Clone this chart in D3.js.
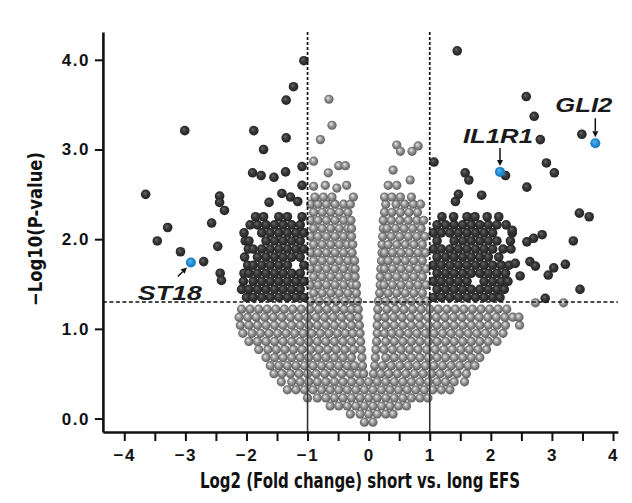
<!DOCTYPE html>
<html>
<head>
<meta charset="utf-8">
<script src="https://cdn.jsdelivr.net/npm/d3@7"></script>
<style>
  body { margin: 0; background: #fff; }
</style>
</head>
<body>
<div id="chart"></div>
<script>
// cut-offs used in the plot
const fcCut = 1
const pCut = 1.3

// non-significant genes, one row per -log10(p) level: [p, fc, fc, ...]
const greyRows = [
  [-0.04, -0.07, 0.07],
  [0.05, -0.3, -0.14, 0, 0.14, 0.28, 0.4],
  [0.14, -0.63, -0.49, -0.35, -0.21, -0.07, 0.07, 0.21, 0.35, 0.49, 0.62],
  [0.23, -1.0, -0.84, -0.7, -0.56, -0.42, -0.28, -0.14, 0, 0.14, 0.28, 0.42, 0.56, 0.7, 0.84, 0.97],
  [0.32, -1.33, -1.19, -1.05, -0.91, -0.77, -0.63, -0.49, -0.35, -0.21, -0.07, 0.07, 0.21, 0.35, 0.49, 0.63, 0.77, 0.91, 1.05, 1.19, 1.33],
  [0.41, -1.43, -1.26, -1.12, -0.98, -0.84, -0.7, -0.56, -0.42, -0.28, -0.14, 0, 0.14, 0.28, 0.42, 0.56, 0.7, 0.84, 0.98, 1.12, 1.26, 1.4, 1.57],
  [0.50, -1.55, -1.42, -1.28, -1.14, -1.0, -0.86, -0.72, -0.58, -0.44, -0.3, -0.17, -0.08, 0.08, 0.2, 0.33, 0.47, 0.61, 0.75, 0.89, 1.03, 1.17, 1.31, 1.45, 1.6],
  [0.59, -1.61, -1.47, -1.33, -1.19, -1.05, -0.91, -0.77, -0.63, -0.49, -0.35, -0.23, -0.1, 0.1, 0.23, 0.37, 0.51, 0.65, 0.79, 0.93, 1.07, 1.21, 1.35, 1.49, 1.63, 1.74],
  [0.68, -1.68, -1.54, -1.4, -1.26, -1.12, -0.98, -0.84, -0.7, -0.56, -0.42, -0.28, -0.11, 0.11, 0.28, 0.42, 0.56, 0.7, 0.84, 0.98, 1.12, 1.26, 1.4, 1.54, 1.68, 1.82],
  [0.77, -1.8, -1.65, -1.51, -1.37, -1.23, -1.09, -0.95, -0.81, -0.67, -0.53, -0.39, -0.25, -0.12, 0.12, 0.25, 0.39, 0.53, 0.67, 0.81, 0.95, 1.09, 1.23, 1.37, 1.51, 1.65, 1.79, 1.93],
  [0.86, -1.96, -1.82, -1.68, -1.54, -1.4, -1.26, -1.12, -0.98, -0.84, -0.7, -0.56, -0.42, -0.28, -0.13, 0.13, 0.28, 0.42, 0.56, 0.7, 0.84, 0.98, 1.12, 1.26, 1.4, 1.54, 1.68, 1.82, 1.96, 2.1],
  [0.95, -2.06, -1.91, -1.77, -1.63, -1.49, -1.35, -1.21, -1.07, -0.93, -0.79, -0.65, -0.51, -0.38, -0.26, -0.14, 0.14, 0.26, 0.38, 0.51, 0.65, 0.79, 0.93, 1.07, 1.21, 1.35, 1.49, 1.63, 1.77, 1.91, 2.05, 2.2],
  [1.04, -2.1, -1.96, -1.82, -1.68, -1.54, -1.4, -1.26, -1.12, -0.98, -0.84, -0.7, -0.56, -0.42, -0.28, -0.15, 0.14, 0.28, 0.42, 0.56, 0.7, 0.84, 0.98, 1.12, 1.26, 1.4, 1.54, 1.68, 1.82, 1.96, 2.1, 2.24, 2.47],
  [1.13, -2.12, -1.98, -1.84, -1.7, -1.56, -1.42, -1.28, -1.14, -1.0, -0.86, -0.72, -0.58, -0.44, -0.3, -0.17, 0.15, 0.27, 0.41, 0.55, 0.69, 0.83, 0.97, 1.11, 1.25, 1.39, 1.53, 1.67, 1.81, 1.95, 2.09, 2.23, 2.36, 2.46],
  [1.22, -2.08, -1.94, -1.8, -1.66, -1.52, -1.38, -1.24, -1.1, -0.96, -0.82, -0.68, -0.54, -0.4, -0.28, -0.17, 0.15, 0.3, 0.44, 0.58, 0.72, 0.86, 1.0, 1.14, 1.28, 1.42, 1.56, 1.7, 1.84, 1.98, 2.12, 2.26],
  [1.31, -0.95, -0.81, -0.67, -0.53, -0.39, -0.26, -0.18, 0.16, 0.28, 0.42, 0.56, 0.7, 0.84, 0.95],
  [1.40, -0.9, -0.76, -0.62, -0.48, -0.34, -0.2, 0.18, 0.32, 0.46, 0.6, 0.74, 0.88],
  [1.49, -0.96, -0.83, -0.69, -0.55, -0.41, -0.27, -0.2, 0.19, 0.25, 0.39, 0.53, 0.67, 0.81, 0.94],
  [1.58, -0.9, -0.76, -0.62, -0.48, -0.34, -0.22, 0.19, 0.32, 0.46, 0.6, 0.74, 0.88],
  [1.67, -0.95, -0.83, -0.69, -0.55, -0.41, -0.27, -0.22, 0.2, 0.26, 0.39, 0.53, 0.67, 0.81, 0.94],
  [1.76, -0.9, -0.76, -0.62, -0.48, -0.34, -0.23, 0.21, 0.32, 0.46, 0.6, 0.74, 0.88],
  [1.85, -0.95, -0.83, -0.69, -0.55, -0.41, -0.27, 0.22, 0.26, 0.39, 0.53, 0.67, 0.81, 0.93],
  [1.94, -0.9, -0.76, -0.62, -0.48, -0.35, -0.26, 0.22, 0.32, 0.46, 0.6, 0.74, 0.88],
  [2.03, -0.95, -0.83, -0.69, -0.55, -0.41, -0.28, 0.23, 0.37, 0.51, 0.65, 0.79, 0.92],
  [2.12, -0.9, -0.76, -0.62, -0.48, -0.34, -0.28, 0.24, 0.3, 0.44, 0.58, 0.72, 0.86],
  [2.21, -0.95, -0.83, -0.69, -0.55, -0.41, -0.29, 0.24, 0.37, 0.51, 0.65, 0.79, 0.9],
  [2.30, -0.9, -0.76, -0.62, -0.48, -0.34, 0.26, 0.38, 0.52, 0.66, 0.8],
  [2.39, -0.95, -0.83, -0.69, -0.55, -0.41, -0.3, 0.28, 0.45, 0.59, 0.73, 0.85],
  [2.47, -0.88, -0.74, -0.6, -0.25, 0.26, 0.38, 0.52, 0.7]
]

// scattered non-significant genes: [fc, p]
const greyScatter = [
  [-0.65, 3.56], [-0.60, 3.27], [-0.79, 3.11], [-0.90, 2.87], [-0.66, 2.74], [-0.49, 2.82],
  [-0.38, 2.82], [-0.90, 2.59], [-0.71, 2.60], [-0.52, 2.57], [-0.36, 2.60],
  [0.46, 3.05], [0.81, 3.04], [0.71, 2.98], [0.52, 2.98], [0.40, 2.77], [0.68, 2.66],
  [0.32, 2.60], [0.46, 2.60], [2.73, 1.29], [3.19, 1.29]
]

// significant genes, dense part: [p, fc, fc, ...]
const sigRows = [
  [1.35, -2.00, -1.89, -1.75, -1.61, -1.47, -1.33, -1.19, -1.06, 1.06, 1.19, 1.33, 1.47, 1.61, 1.75, 1.89, 2.03, 2.15],
  [1.44, -2.08, -1.96, -1.82, -1.68, -1.54, -1.40, -1.26, -1.12, 1.12, 1.26, 1.40, 1.54, 1.68, 1.82, 1.96, 2.10, 2.22],
  [1.53, -2.05, -1.89, -1.75, -1.61, -1.47, -1.33, -1.19, -1.06, 1.06, 1.19, 1.33, 1.47, 1.61, 1.89, 2.03, 2.17, 2.28],
  [1.62, -2.04, -1.96, -1.82, -1.68, -1.54, -1.40, -1.26, -1.12, 1.12, 1.26, 1.40, 1.54, 1.68, 1.82, 1.96, 2.10, 2.24],
  [1.71, -1.98, -1.89, -1.75, -1.61, -1.47, -1.33, -1.06, 1.06, 1.19, 1.33, 1.47, 1.61, 1.75, 1.89, 2.03, 2.17, 2.30],
  [1.80, -2.03, -1.82, -1.68, -1.54, -1.40, -1.26, -1.12, 1.12, 1.26, 1.40, 1.54, 1.68, 1.82, 1.96, 2.13],
  [1.89, -1.97, -1.89, -1.75, -1.61, -1.47, -1.33, -1.19, -1.06, 1.06, 1.19, 1.33, 1.47, 1.61, 1.75, 1.89, 2.03, 2.20, 2.33],
  [1.98, -2.02, -1.96, -1.68, -1.54, -1.40, -1.26, -1.12, 1.12, 1.40, 1.54, 1.68, 1.82, 1.96, 2.10, 2.32],
  [2.07, -2.04, -1.75, -1.61, -1.47, -1.33, -1.19, -1.06, 1.06, 1.19, 1.33, 1.47, 1.61, 1.75, 1.89, 2.03, 2.35],
  [2.16, -1.94, -1.82, -1.68, -1.54, -1.40, -1.26, -1.12, 1.12, 1.26, 1.40, 1.54, 1.68, 1.82, 1.96, 2.10, 2.25],
  [2.25, -1.85, -1.72, -1.47, -1.33, -1.09, 1.20, 1.39, 1.61, 1.74, 1.94, 2.13]
]

// significant genes, scattered: [fc, p]
const sigScatter = [
  [-1.06, 3.99], [-1.23, 3.70], [-1.35, 3.55], [-3.01, 3.21], [-1.88, 3.21], [-1.35, 3.13], [-1.72, 3.00],
  [-1.90, 2.74], [-1.76, 2.71], [-1.55, 2.69], [-1.36, 2.75], [-1.09, 2.81], [-1.09, 2.60],
  [-3.65, 2.50], [-2.44, 2.48], [-2.44, 2.41], [-2.36, 2.32], [-1.63, 2.41], [-1.42, 2.51], [-1.28, 2.47], [-1.16, 2.42],
  [-3.29, 2.13], [-3.46, 1.98], [-2.57, 2.18], [-2.47, 1.92], [-3.08, 1.86], [-2.70, 1.75], [-2.43, 1.62], [-2.41, 1.54],
  [1.45, 4.10], [2.58, 3.59], [2.71, 3.37], [2.81, 3.11], [3.49, 3.17], [1.07, 2.86], [1.58, 2.74], [1.64, 2.66],
  [2.24, 2.71], [2.91, 2.85], [3.04, 2.74], [2.59, 2.58], [1.85, 2.49], [1.47, 2.50], [1.42, 2.42],
  [3.45, 2.29], [3.61, 2.25], [3.35, 1.98], [2.84, 2.05], [2.70, 2.01], [2.59, 1.97], [2.35, 2.10],
  [2.40, 1.73], [2.64, 1.75], [2.73, 1.70], [3.03, 1.68], [2.94, 1.60], [3.22, 1.72], [2.48, 1.59],
  [3.46, 1.44], [2.89, 1.34]
]

// highlighted genes
const genes = ["ST18", "IL1R1", "GLI2"]
const geneFc = [-2.91, 2.15, 3.71]
const geneP = [1.74, 2.75, 3.07]

const xTicks = [-4, -3, -2, -1, 0, 1, 2, 3, 4]
const xMinor = [-3.5, -2.5, -1.5, -0.5, 0.5, 1.5, 2.5, 3.5]
const yTicks = [0, 1, 2, 3, 4]

// ---- layout ----
const width = 632, height = 503
const x = d3.scaleLinear().domain([-4.35, 4.08]).range([102.9, 617.9])
const y = d3.scaleLinear().domain([-0.15, 4.31]).range([432, 32])

const labelPos = {  // text offset from the point, arrow start/end offsets
  ST18:  { dx: -53, dy: 38, ax1: -13, ay1: 14, ax2: -4, ay2: 5, len: 64 },
  IL1R1: { dx: -37, dy: -29, ax1: 0, ay1: -24, ax2: 0, ay2: -6, len: 70 },
  GLI2:  { dx: -40, dy: -31, ax1: 0, ay1: -25, ax2: 0, ay2: -6, len: 57 }
}

const unpack = rows => rows.flatMap(([p, ...fcs]) => fcs.map(fc => ({ fc, p })))
const pairs = arr => arr.map(([fc, p]) => ({ fc, p }))
const grey = unpack(greyRows).concat(pairs(greyScatter))
const dark = unpack(sigRows).concat(pairs(sigScatter))
const blue = genes.map((g, i) => ({ gene: g, fc: geneFc[i], p: geneP[i] }))

const svg = d3.select("#chart").append("svg")
  .attr("width", width)
  .attr("height", height)
  .style("background", "#fff")

const defs = svg.append("defs")
function ball(id, stops) {
  const g = defs.append("radialGradient").attr("id", id)
    .attr("cx", "50%").attr("cy", "50%").attr("r", "55%")
    .attr("fx", "38%").attr("fy", "34%")
  stops.forEach(([o, c]) => g.append("stop").attr("offset", o).attr("stop-color", c))
}
ball("ballGrey", [[0, "#f4f4f4"], [0.2, "#c6c6c6"], [0.5, "#929292"], [1, "#525252"]])
ball("ballDark", [[0, "#6a6a6a"], [0.4, "#3c3c3c"], [1, "#1e1e1e"]])
ball("ballBlue", [[0, "#5ab6ee"], [0.5, "#2590d6"], [1, "#136fb0"]])

svg.append("g")
  .selectAll("circle")
  .data(grey)
  .join("circle")
  .attr("cx", d => x(d.fc))
  .attr("cy", d => y(d.p))
  .attr("r", 4.6)
  .attr("fill", "url(#ballGrey)")

svg.append("g")
  .selectAll("circle")
  .data(dark)
  .join("circle")
  .attr("cx", d => x(d.fc))
  .attr("cy", d => y(d.p))
  .attr("r", 4.8)
  .attr("fill", "url(#ballDark)")

svg.append("g")
  .selectAll("circle")
  .data(blue)
  .join("circle")
  .attr("cx", d => x(d.fc))
  .attr("cy", d => y(d.p))
  .attr("r", 5)
  .attr("fill", "url(#ballBlue)")

// threshold lines
const lines = svg.append("g").attr("fill", "none")
lines.append("line")
  .attr("x1", x.range()[0]).attr("x2", x.range()[1])
  .attr("y1", y(pCut)).attr("y2", y(pCut))
  .attr("stroke", "#111").attr("stroke-width", 1.6).attr("stroke-dasharray", "4,2.5")
;[-fcCut, fcCut].forEach(v => {
  lines.append("line")
    .attr("x1", x(v)).attr("x2", x(v))
    .attr("y1", y.range()[1]).attr("y2", y(pCut))
    .attr("stroke", "#111").attr("stroke-width", 1.7).attr("stroke-dasharray", "3,2")
  lines.append("line")
    .attr("x1", x(v)).attr("x2", x(v))
    .attr("y1", y(pCut)).attr("y2", y.range()[0])
    .attr("stroke", "#333").attr("stroke-width", 1.6)
})

// axes
const tickFont = g => g.selectAll("text")
  .attr("fill", "#111")
  .attr("font-family", "'Liberation Sans', Arial, sans-serif")
  .attr("font-weight", "bold")
  .attr("font-size", 17)
  .attr("letter-spacing", 1.5)

svg.append("g")
  .attr("transform", `translate(${x.range()[0]},0)`)
  .call(d3.axisLeft(y).tickValues(yTicks).tickFormat(d3.format(".1f")).tickSize(8).tickPadding(5).tickSizeOuter(0))
  .call(g => g.select(".domain").attr("stroke", "#111").attr("stroke-width", 2.6))
  .call(g => g.selectAll(".tick line").attr("stroke", "#111").attr("stroke-width", 2))
  .call(tickFont)

svg.append("g")
  .attr("transform", `translate(0,${y.range()[0]})`)
  .call(d3.axisBottom(x).tickValues(xTicks.concat(xMinor)).tickFormat(d => xTicks.includes(d) ? d3.format("d")(d) : "")
    .tickSize(9).tickPadding(8).tickSizeOuter(0))
  .call(g => g.select(".domain").attr("stroke", "#111").attr("stroke-width", 2.6))
  .call(g => g.selectAll(".tick line").attr("stroke", "#111").attr("stroke-width", 2))
  .call(tickFont)

const titleFont = "'Liberation Sans Narrow', 'DejaVu Sans Condensed', 'Liberation Sans', sans-serif"
svg.append("text")
  .attr("x", 360).attr("y", 488)
  .attr("text-anchor", "middle")
  .attr("font-family", titleFont)
  .attr("font-weight", "bold")
  .attr("font-size", 22)
  .attr("textLength", 320)
  .attr("lengthAdjust", "spacingAndGlyphs")
  .attr("fill", "#111")
  .text("Log2 (Fold change) short vs. long EFS")

svg.append("text")
  .attr("transform", "translate(42,229) rotate(-90)")
  .attr("text-anchor", "middle")
  .attr("font-family", titleFont)
  .attr("font-weight", "bold")
  .attr("font-size", 20)
  .attr("textLength", 154)
  .attr("lengthAdjust", "spacingAndGlyphs")
  .attr("fill", "#111")
  .text("\u2212Log10(P-value)")

// gene labels with arrows
const ann = svg.append("g")
blue.forEach(d => {
  const L = labelPos[d.gene]
  const px = x(d.fc), py = y(d.p)
  ann.append("text")
    .attr("x", px + L.dx).attr("y", py + L.dy)
    .attr("font-family", "'Liberation Sans', Arial, sans-serif")
    .attr("font-style", "italic")
    .attr("font-weight", "bold")
    .attr("font-size", 21)
    .attr("textLength", L.len)
    .attr("lengthAdjust", "spacingAndGlyphs")
    .attr("fill", "#1a1a1a")
    .text(d.gene)
  const x1 = px + L.ax1, y1 = py + L.ay1, x2 = px + L.ax2, y2 = py + L.ay2
  const a = Math.atan2(y2 - y1, x2 - x1), h = 6, w = 3
  const bx = x2 - h * Math.cos(a), by = y2 - h * Math.sin(a)
  ann.append("line")
    .attr("x1", x1).attr("y1", y1).attr("x2", bx).attr("y2", by)
    .attr("stroke", "#111").attr("stroke-width", 1.5)
  ann.append("path")
    .attr("d", `M${x2},${y2}L${bx - w * Math.sin(a)},${by + w * Math.cos(a)}L${bx + w * Math.sin(a)},${by - w * Math.cos(a)}Z`)
    .attr("fill", "#111")
})
</script>
</body>
</html>
